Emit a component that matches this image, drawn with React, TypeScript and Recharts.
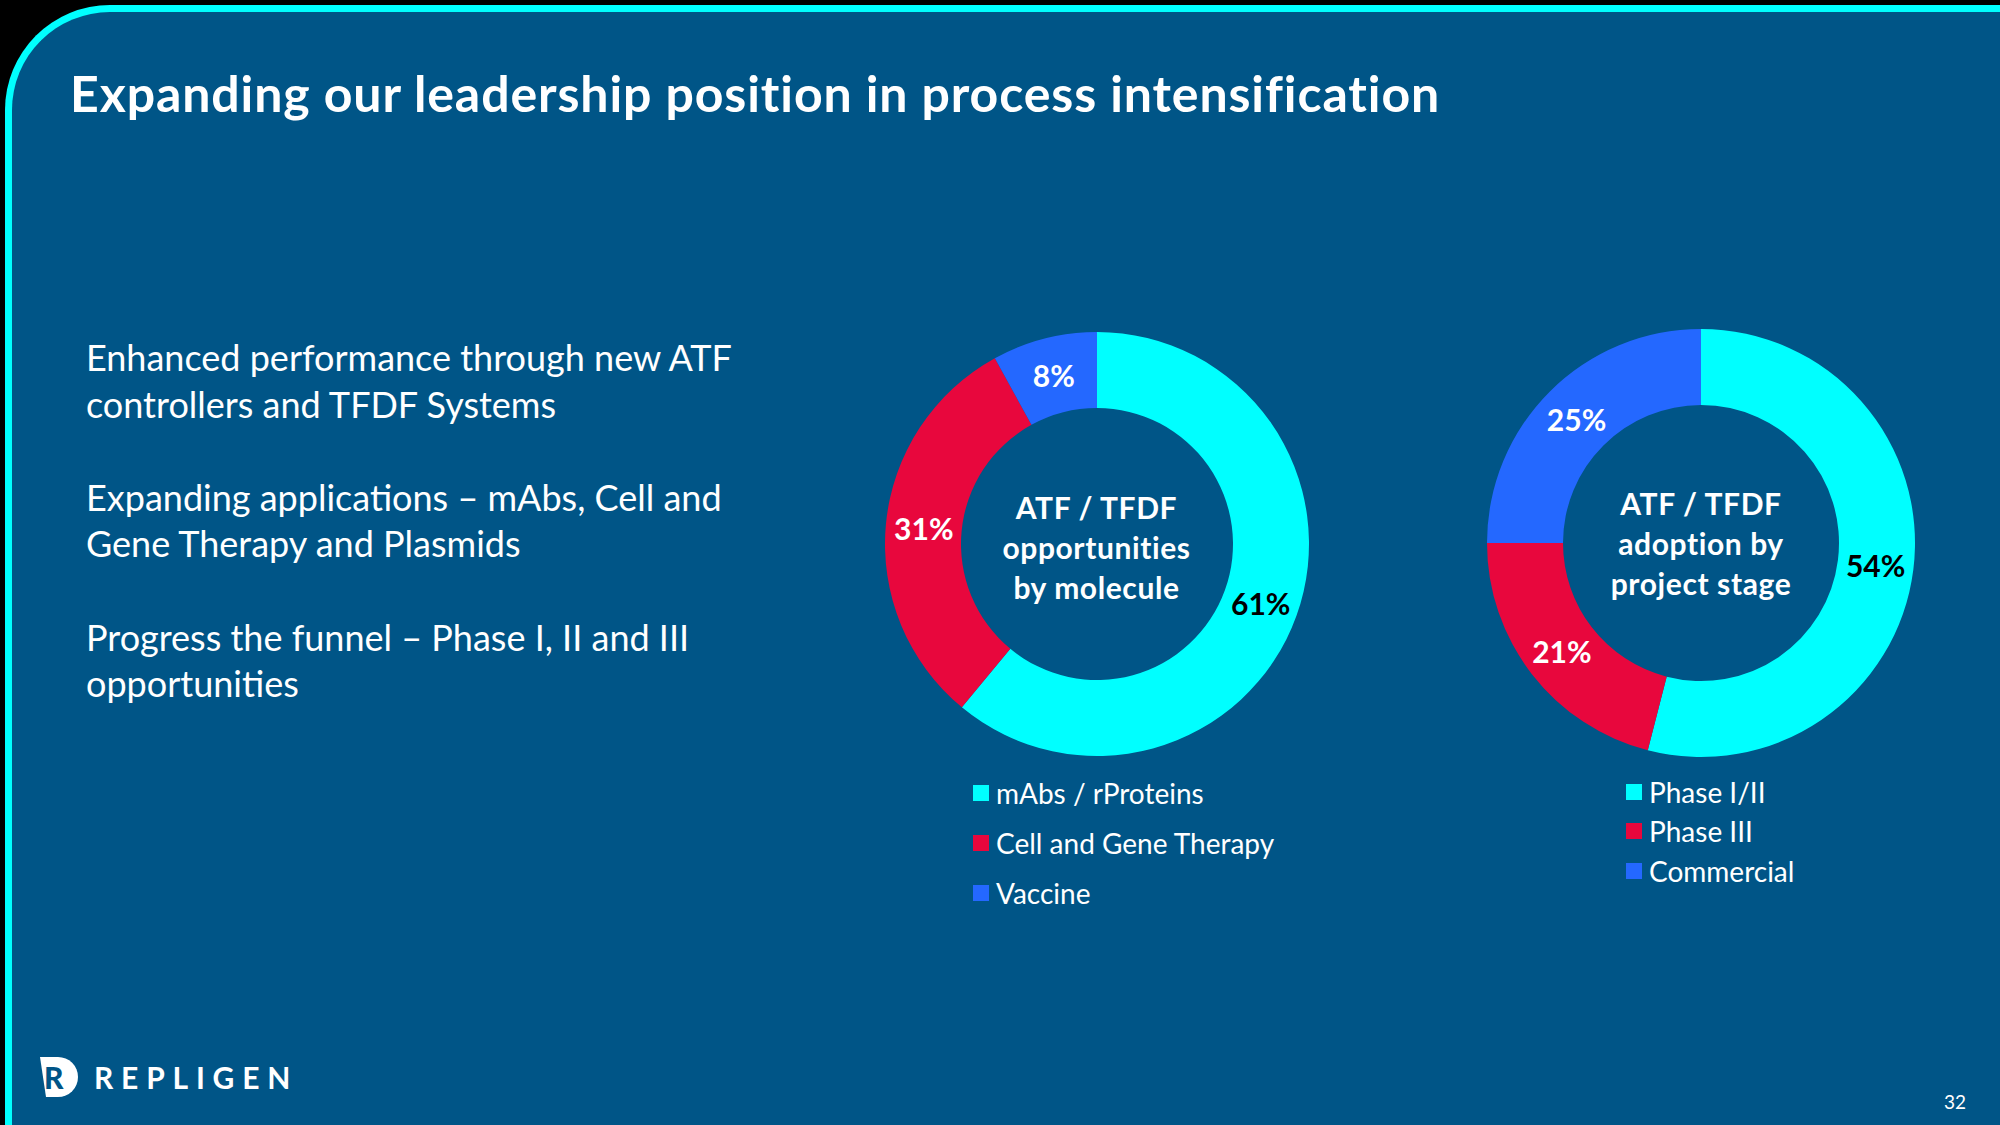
import * as React from "react";
import { PieChart, Pie, Cell } from "recharts";

const MOLECULE_NAMES = ["mAbs / rProteins", "Cell and Gene Therapy", "Vaccine"];
const MOLECULE_VALUES = [61, 31, 8];
const STAGE_NAMES = ["Phase I/II", "Phase III", "Commercial"];
const STAGE_VALUES = [54, 21, 25];
const SLICE_COLORS = ["#00FFFF", "#E8073D", "#2468FF"];
const LABEL_COLORS = ["#000000", "#FFFFFF", "#FFFFFF"];

const BG = "#005587";
const FONT = "Lato, 'Open Sans', sans-serif";

const BULLETS = [
  ["Enhanced performance through new ATF", "controllers and TFDF Systems"],
  ["Expanding applications \u2013 mAbs, Cell and", "Gene Therapy and Plasmids"],
  ["Progress the funnel \u2013 Phase I, II and III", "opportunities"],
];

const RAD = Math.PI / 180;

function renderLabel(props: any) {
  const { cx, cy, midAngle, innerRadius, outerRadius, value, index } = props;
  const r = (innerRadius + outerRadius) / 2;
  const x = cx + r * Math.cos(-midAngle * RAD);
  const y = cy + r * Math.sin(-midAngle * RAD);
  return (
    <text x={x} y={y} fill={LABEL_COLORS[index]} textAnchor="middle" dominantBaseline="central"
      fontFamily={FONT} fontWeight={700} fontSize={30}>
      {value}%
    </text>
  );
}

function Donut({ names, values, outer, inner, center, shift }: { names: string[]; values: number[]; outer: number; inner: number; center: string[]; shift: number }) {
  const rows = names.map((n, i) => ({ name: n, value: values[i] }));
  return (
    <div style={{ position: "relative", width: 500, height: 500 }}>
      <PieChart width={500} height={500} margin={{ top: 0, right: 0, bottom: 0, left: 0 }}>
        <Pie data={rows} dataKey="value" nameKey="name" cx={250} cy={250} outerRadius={outer} innerRadius={inner}
          startAngle={90} endAngle={-270} stroke="none" label={renderLabel} labelLine={false} isAnimationActive={false}>
          {rows.map((r, i) => (
            <Cell key={r.name} fill={SLICE_COLORS[i]} />
          ))}
        </Pie>
      </PieChart>
      <div style={{ position: "absolute", left: 0, top: 0, width: 500, height: 500, display: "flex", alignItems: "center", justifyContent: "center", pointerEvents: "none" }}>
        <div style={{ color: "#fff", fontFamily: FONT, fontWeight: 700, fontSize: 30, letterSpacing: 0.6, lineHeight: "40px", textAlign: "center", marginTop: shift * 2 }}>
          {center.map((l) => <div key={l}>{l}</div>)}
        </div>
      </div>
    </div>
  );
}

function LegendList({ names, gap }: { names: string[]; gap: number }) {
  return (
    <div style={{ fontFamily: FONT, color: "#fff", fontSize: 28 }}>
      {names.map((n, i) => (
        <div key={n} style={{ display: "flex", alignItems: "center", height: gap }}>
          <span style={{ width: 16, height: 16, background: SLICE_COLORS[i], marginRight: 7, display: "inline-block" }} />
          <span>{n}</span>
        </div>
      ))}
    </div>
  );
}

export default function App() {
  return (
    <div style={{ position: "relative", width: 2000, height: 1125, background: "#000", overflow: "hidden" }}>
      <style>{`body{margin:0}`}</style>
      <div style={{ position: "absolute", left: 5, top: 5, width: 2020, height: 1140, background: BG, borderTop: "7px solid #00FFFF", borderLeft: "7px solid #00FFFF", borderTopLeftRadius: 105, boxSizing: "border-box" }} />
      <div style={{ position: "absolute", left: 70, top: 63, color: "#fff", fontFamily: FONT, fontWeight: 700, fontSize: 50, letterSpacing: 0.9, whiteSpace: "nowrap" }}>
        Expanding our leadership position in process intensification
      </div>
      <div style={{ position: "absolute", left: 86, top: 334, color: "#fff", fontFamily: FONT, fontSize: 36, lineHeight: "46.6px" }}>
        {BULLETS.map((p, i) => (
          <div key={i} style={{ marginBottom: i < BULLETS.length - 1 ? 46.6 : 0 }}>
            {p.map((l) => <div key={l} style={{ whiteSpace: "nowrap" }}>{l}</div>)}
          </div>
        ))}
      </div>
      <div style={{ position: "absolute", left: 1096.5 - 250, top: 543.5 - 250 }}>
        <Donut names={MOLECULE_NAMES} values={MOLECULE_VALUES} outer={212} inner={136} shift={3} center={["ATF / TFDF", "opportunities", "by molecule"]} />
      </div>
      <div style={{ position: "absolute", left: 1701 - 250, top: 543 - 250 }}>
        <Donut names={STAGE_NAMES} values={STAGE_VALUES} outer={214} inner={138} shift={0} center={["ATF / TFDF", "adoption by", "project stage"]} />
      </div>
      <div style={{ position: "absolute", left: 973, top: 768 }}>
        <LegendList names={MOLECULE_NAMES} gap={50} />
      </div>
      <div style={{ position: "absolute", left: 1626, top: 772 }}>
        <LegendList names={STAGE_NAMES} gap={39.5} />
      </div>
      <div style={{ position: "absolute", left: 36, top: 1055, display: "flex", alignItems: "center" }}>
        <svg width={44} height={44} viewBox="0 0 44 44">
          <path d="M4 2 H22 A20 20 0 0 1 22 42 H10 Z" fill="#fff" />
          <text x={8} y={34} fontFamily={FONT} fontWeight={900} fontSize={30} fill={BG}>R</text>
        </svg>
        <span style={{ marginLeft: 14, color: "#fff", fontFamily: FONT, fontWeight: 700, fontSize: 30, letterSpacing: 7.8 }}>REPLIGEN</span>
      </div>
      <div style={{ position: "absolute", left: 1944, top: 1090, color: "#fff", fontFamily: FONT, fontSize: 19 }}>32</div>
    </div>
  );
}
